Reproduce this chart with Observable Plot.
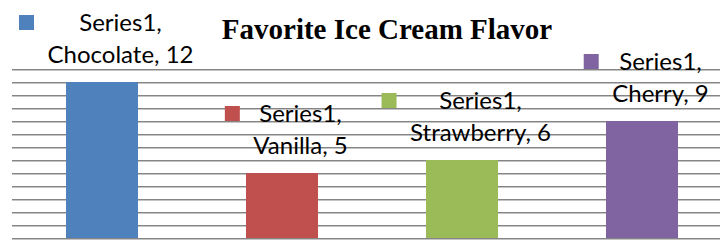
<!DOCTYPE html>
<html><head><meta charset="utf-8">
<script src="https://cdn.jsdelivr.net/npm/d3@7"></script>
<script src="https://cdn.jsdelivr.net/npm/@observablehq/plot@0.6"></script>
<style>html,body{margin:0;padding:0;background:#fff;} #chart svg{display:block;background:#fff}</style>
</head><body><div id="chart"></div>
<script>
const flavors = ["Chocolate", "Vanilla", "Strawberry", "Cherry"];
const counts = [12, 5, 6, 9];
const seriesName = "Series1";
const colors = ["#4F81BD", "#C0504D", "#9BBB59", "#8064A2"];
const gridTicks = [0, 1, 2, 3, 4, 5, 6, 7, 8, 9, 10, 11, 12, 13];
const title = "Favorite Ice Cream Flavor";

const data = flavors.map((f, i) => ({flavor: f, count: counts[i], line1: seriesName + ",", line2: `${f}, ${counts[i]}`}));

const LABEL_FONT = "Lato, 'Open Sans', sans-serif";
const LABEL_SIZE = 24;
const ctx = document.createElement("canvas").getContext("2d");
ctx.font = `${LABEL_SIZE}px Lato`;
const textW = d => Math.max(ctx.measureText(d.line1).width, ctx.measureText(d.line2).width);

const TEXT_DX = 18;
const marks = [
  Plot.ruleY(gridTicks, {stroke: "#858585", strokeWidth: 1}),
  Plot.ruleY(gridTicks, {stroke: "#c4c4c4", strokeWidth: 1, dy: 1}),
  Plot.barY(data, {x: "flavor", y: "count", fill: "flavor"}),
  Plot.text(data, {x: "flavor", y: "count", text: "line1", dx: TEXT_DX, dy: -51.5, lineAnchor: "bottom", textAnchor: "middle", fontFamily: LABEL_FONT, fontSize: LABEL_SIZE, fill: "black"}),
  Plot.text(data, {x: "flavor", y: "count", text: "line2", dx: TEXT_DX, dy: -19.5, lineAnchor: "bottom", textAnchor: "middle", fontFamily: LABEL_FONT, fontSize: LABEL_SIZE, fill: "black"}),
  ...data.map((d, i) => Plot.dot([d], {
    x: "flavor", y: "count", fill: colors[i], symbol: "square", r: 15 / Math.sqrt(Math.PI), stroke: "none",
    dx: TEXT_DX - textW(d) / 2 - 28.5 + 7.5, dy: -51.5 - 16 + 7.5
  })),
  Plot.text([title], {frameAnchor: "top-left", dx: 374.5, dy: 38.5, textAnchor: "middle", lineAnchor: "bottom", fontFamily: "'Liberation Serif', 'Times New Roman', serif", fontWeight: "bold", fontSize: 29, fill: "black"})
];

const chart = Plot.plot({
  width: 720, height: 240,
  marginLeft: 12, marginRight: 0, marginTop: 0, marginBottom: 2,
  x: {domain: flavors, range: [12, 732], paddingInner: 0.6, paddingOuter: 0.3, axis: null},
  y: {domain: [0, 13], range: [238, 69], axis: null},
  color: {domain: flavors, range: colors},
  marks
});
document.getElementById("chart").appendChild(chart);
</script>
</body></html>
